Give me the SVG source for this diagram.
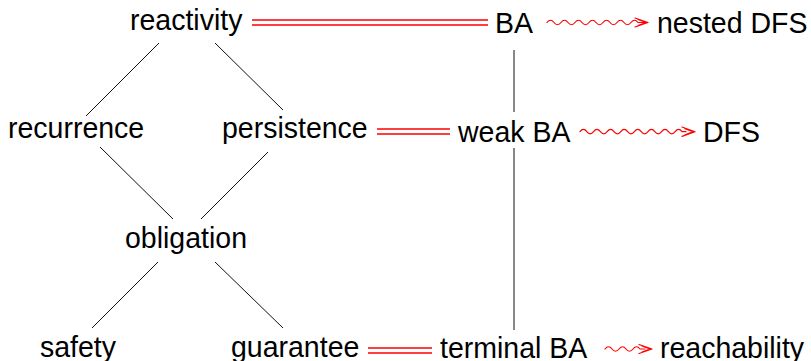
<svg xmlns="http://www.w3.org/2000/svg" width="811" height="361" viewBox="0 0 811 361">
  <style>
    text { font-family: "Liberation Sans", Arial, sans-serif; font-size: 28.5px; fill: #000; }
    .edge { stroke: #111; stroke-width: 1; fill: none; }
    .eq { stroke: #f00; stroke-width: 1.3; fill: none; }
    .snake { stroke: #f00; stroke-width: 1.2; fill: none; stroke-linecap: round; stroke-linejoin: round; }
  </style>
  <rect width="811" height="361" fill="#fff"/>

  <!-- connectors -->
  <g id="connectors">
    <!-- lattice of property classes -->
    <line class="edge" x1="159" y1="43" x2="86" y2="116"/>
    <line class="edge" x1="215" y1="43" x2="283" y2="110"/>
    <line class="edge" x1="100" y1="147" x2="173" y2="219"/>
    <line class="edge" x1="268" y1="152" x2="201" y2="219"/>
    <line class="edge" x1="158" y1="262" x2="92" y2="328"/>
    <line class="edge" x1="215" y1="262" x2="283" y2="328"/>
    <!-- automaton hierarchy -->
    <line class="edge" x1="514" y1="50" x2="514" y2="112"/>
    <line class="edge" x1="514" y1="148" x2="514" y2="330"/>

    <!-- equivalences -->
    <path class="eq" d="M252,20 H488 M252,25 H488"/>
    <path class="eq" d="M377,129 H450 M377,134 H450"/>
    <path class="eq" d="M368,348 H432 M368,353 H432"/>

    <!-- algorithm arrows -->
    <path class="snake" d="M547,22.5 q3.5,-4.5 7,0 t7,0 t7,0 t7,0 t7,0 t7,0 t7,0 t7,0 t7,0 t7,0 t7,0 t7,0 t7,0 h9"/>
    <path class="snake" d="M635,18 L648,22.5 L635,27 M638,19.5 L646,22.5 L638,25.5"/>

    <path class="snake" d="M580,131.7 q3.4,-4.5 6.8,0 t6.8,0 t6.8,0 t6.8,0 t6.8,0 t6.8,0 t6.8,0 t6.8,0 t6.8,0 t6.8,0 t6.8,0 t6.8,0 t6.8,0 t6.8,0 t6.8,0 h4"/>
    <path class="snake" d="M682,127 L695,131.7 L682,136.4 M685,128.7 L693,131.7 L685,134.7"/>

    <path class="snake" d="M605,349 q3.5,-4.5 7,0 t7,0 t7,0 t7,0 t7,0 h5"/>
    <path class="snake" d="M639,344.5 L652,349 L639,353.5 M642,346 L650,349 L642,352"/>
  </g>

  <!-- nodes (text slightly stretched vertically) -->
  <g id="reactivity"><text transform="translate(130,30) scale(1,1.06)">reactivity</text></g>
  <g id="recurrence"><text transform="translate(8,138) scale(1,1.06)">recurrence</text></g>
  <g id="persistence"><text transform="translate(222,138) scale(1,1.06)">persistence</text></g>
  <g id="obligation"><text transform="translate(125,248) scale(1,1.06)">obligation</text></g>
  <g id="safety"><text transform="translate(40,357) scale(1,1.06)">safety</text></g>
  <g id="guarantee"><text transform="translate(231,357) scale(1,1.06)">guarantee</text></g>

  <g id="ba"><text transform="translate(495,33) scale(1,1.06)">BA</text></g>
  <g id="weak-ba"><text transform="translate(458,142) scale(1,1.06)">weak BA</text></g>
  <g id="terminal-ba"><text transform="translate(440,358) scale(1,1.06)">terminal BA</text></g>

  <g id="nested-dfs"><text transform="translate(657,33) scale(1,1.06)">nested DFS</text></g>
  <g id="dfs"><text transform="translate(703,142) scale(1,1.06)">DFS</text></g>
  <g id="reachability"><text transform="translate(660,358) scale(1,1.06)">reachability</text></g>
</svg>
